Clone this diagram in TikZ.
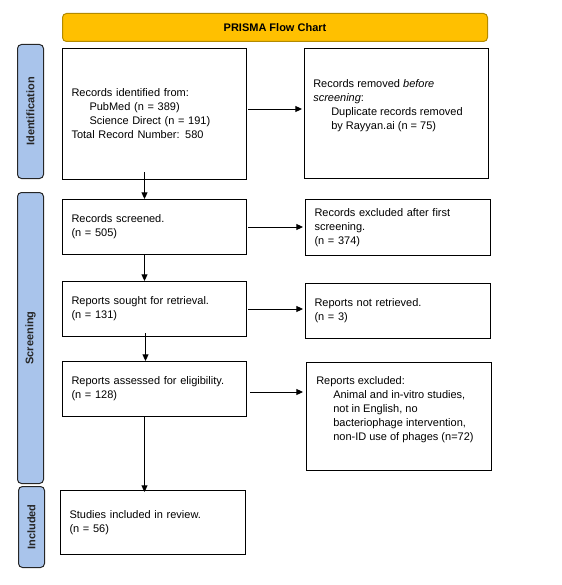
\documentclass[tikz,border=0pt]{standalone}
\usepackage{fontspec}
\setmainfont{Liberation Sans}
\usetikzlibrary{arrows.meta,positioning,calc}
\definecolor{sideblue}{HTML}{A9C4EB}
\definecolor{titleorange}{HTML}{FFC000}
\definecolor{titleborder}{HTML}{B38A00}
\begin{document}
\begin{tikzpicture}[x=0.75pt,y=-0.75pt,
  every node/.style={font=\fontsize{8.25pt}{10.5pt}\selectfont},
  box/.style={draw=black,line width=0.75pt,fill=white,rectangle,inner xsep=6.75pt,inner ysep=0pt,align=left,anchor=north west},
  txt/.style={anchor=north west,inner sep=0pt,align=left},
  side/.style={draw=black!85,line width=0.75pt,fill=sideblue,rounded corners=3pt,anchor=north west,inner sep=0pt},
  sidelabel/.style={rotate=90,font=\fontsize{8.25pt}{10pt}\selectfont\bfseries,text=black!85},
  arr/.style={-{Triangle[length=5pt,width=4.5pt]},line width=0.75pt}
]
\useasboundingbox (0,0) rectangle (561,585);
% title
\node[draw=titleborder,fill=titleorange,line width=0.75pt,rounded corners=3pt,anchor=north west,
  minimum width=425*0.75pt,minimum height=28*0.75pt,inner sep=0pt,font=\fontsize{8.25pt}{10pt}\selectfont\bfseries] (title) at (62,13) {PRISMA Flow Chart};
% sidebars
\node[side,minimum width=26*0.75pt,minimum height=134*0.75pt] (sid) at (17,44) {};
\node[sidelabel] (sidl) at (sid.center) {Identification};
\node[side,minimum width=26*0.75pt,minimum height=291*0.75pt] (sscr) at (17,192) {};
\node[sidelabel] (sscrl) at (sscr.center) {Screening};
\node[side,minimum width=26*0.75pt,minimum height=81*0.75pt] (sinc) at (18,486) {};
\node[sidelabel] (sincl) at (sinc.center) {Included};
% left boxes
\node[box,minimum width=184*0.75pt,minimum height=131*0.75pt,text width=166*0.75pt] (b1) at (62,48)
 {Records identified from:\\\hspace*{13.5pt}PubMed (n = 389)\\\hspace*{13.5pt}Science Direct (n = 191)\\Total Record Number: 580};
\node[box,minimum width=184*0.75pt,minimum height=55*0.75pt,text width=166*0.75pt] (b2) at (62,199)
 {Records screened.\\(n = 505)};
\node[box,minimum width=184*0.75pt,minimum height=55*0.75pt,text width=166*0.75pt] (b3) at (62,281)
 {Reports sought for retrieval.\\(n = 131)};
\node[box,minimum width=184*0.75pt,minimum height=55*0.75pt,text width=166*0.75pt] (b4) at (62,361)
 {Reports assessed for eligibility.\\(n = 128)};
\node[box,minimum width=185*0.75pt,minimum height=64*0.75pt,text width=167*0.75pt] (b5) at (60,490)
 {Studies included in review.\\(n = 56)};
% right boxes
\node[box,minimum width=184*0.75pt,minimum height=130*0.75pt] (r1) at (304,48) {};
\node[txt] (r1t) at (313,79)
 {Records removed \textit{before}\\\textit{screening}:\\\hspace*{13.5pt}Duplicate records removed\\\hspace*{13.5pt}by Rayyan.ai (n = 75)};
\node[box,minimum width=185*0.75pt,minimum height=56*0.75pt,text width=167*0.75pt] (r2) at (305,199)
 {Records excluded after first\\screening.\\(n = 374)};
\node[box,minimum width=185*0.75pt,minimum height=55*0.75pt,text width=167*0.75pt] (r3) at (305,283)
 {Reports not retrieved.\\(n = 3)};
\node[box,minimum width=185*0.75pt,minimum height=108*0.75pt] (r4) at (306,362) {};
\node[txt] (r4t) at (316,376)
 {Reports excluded:\\\hspace*{12.75pt}Animal and in-vitro studies,\\\hspace*{12.75pt}not in English, no\\\hspace*{12.75pt}bacteriophage intervention,\\\hspace*{12.75pt}non-ID use of phages (n=72)};
% horizontal arrows
\draw[arr] ($(b1.east)+(1,-5)$) -- ($(r1.west |- b1.east)+(-2,-5)$);
\draw[arr] ($(b2.east)+(1,0)$) -- ($(r2.west |- b2.east)+(-2,0)$);
\draw[arr] ($(b3.east)+(1,0)$) -- ($(r3.west |- b3.east)+(-2,0)$);
\draw[arr] ($(b4.east)+(3,3)$) -- ($(r4.west |- b4.east)+(-3,3)$);
% vertical arrows
\draw[arr] ($(b1.south)+(-10,-8)$) -- (b2.north -| {$(b1.south)+(-10,0)$});
\draw[arr] ($(b2.south)+(-10,0)$) -- (b3.north -| {$(b2.south)+(-10,0)$});
\draw[arr] ($(b3.south)+(-9,-4)$) -- (b4.north -| {$(b3.south)+(-9,0)$});
\draw[arr] ($(b4.south)+(-10,0)$) -- ($(b5.north -| {$(b4.south)+(-10,0)$})+(0,2)$);
\end{tikzpicture}
\end{document}
